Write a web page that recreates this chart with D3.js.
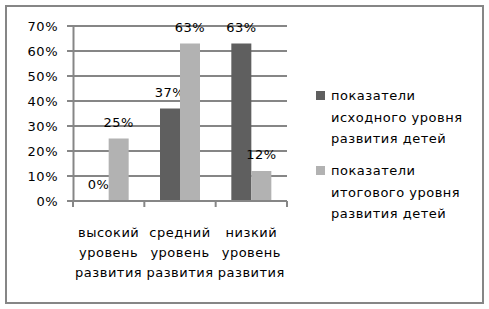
<!DOCTYPE html>
<html lang="ru">
<head>
<meta charset="UTF-8">
<script src="https://d3js.org/d3.v7.min.js"></script>
<style>
  html, body { margin: 0; padding: 0; background: #fff; }
  svg { display: block; font-family: "DejaVu Sans", sans-serif; }
  svg text { letter-spacing: 0.5px; }
</style>
</head>
<body>
<div id="chart"></div>
<script>
// data
const categories = [
  ["высокий", "уровень", "развития"],
  ["средний", "уровень", "развития"],
  ["низкий", "уровень", "развития"]
];
const initialLevel = [0, 37, 63];   // показатели исходного уровня
const finalLevel = [25, 63, 12];    // показатели итогового уровня
const yTicks = [0, 10, 20, 30, 40, 50, 60, 70];
const legendLabels = [
  ["показатели", "исходного уровня", "развития детей"],
  ["показатели", "итогового уровня", "развития детей"]
];
const colors = ["#5f5f5f", "#b2b2b2"];

const w = 489, h = 309;
const plotLeft = 73, plotRight = 287, plotTop = 26, plotBottom = 201;

const svg = d3.select("#chart").append("svg")
  .attr("width", w)
  .attr("height", h);

// outer frame
svg.append("rect")
  .attr("x", 6).attr("y", 6)
  .attr("width", 477).attr("height", 297)
  .attr("fill", "#fff")
  .attr("stroke", "#868686")
  .attr("stroke-width", 2);

const keys = categories.map((c, i) => i);

const x = d3.scaleBand()
  .domain(keys)
  .range([plotLeft, plotRight]);

const barW = 20;
const xs = d3.scaleBand()
  .domain([0, 1])
  .range([x.bandwidth() / 2 - barW, x.bandwidth() / 2 + barW]);

const y = d3.scaleLinear()
  .domain([0, 70])
  .range([plotBottom, plotTop]);

// gridlines
svg.append("g")
  .selectAll("line")
  .data(yTicks)
  .enter()
  .append("line")
  .attr("x1", plotLeft - 6)
  .attr("x2", plotRight)
  .attr("y1", d => y(d))
  .attr("y2", d => y(d))
  .attr("stroke", "#868686")
  .attr("stroke-width", 2);

// y axis
const yAxis = d3.axisLeft(y)
  .tickValues(yTicks)
  .tickSize(0)
  .tickPadding(15)
  .tickFormat(d => d + "%");

const gy = svg.append("g")
  .attr("transform", `translate(${plotLeft},0)`)
  .call(yAxis);
gy.select(".domain")
  .attr("stroke", "#868686")
  .attr("stroke-width", 2);
gy.selectAll("text")
  .attr("font-size", "13px")
  .attr("fill", "#000")
  .attr("font-family", "DejaVu Sans");

// bars
const series = [initialLevel, finalLevel];
series.forEach((vals, s) => {
  svg.append("g")
    .selectAll("rect")
    .data(vals)
    .enter()
    .append("rect")
    .attr("x", (d, i) => x(i) + xs(s))
    .attr("y", d => y(d))
    .attr("width", xs.bandwidth())
    .attr("height", d => plotBottom - y(d))
    .attr("fill", colors[s]);

  svg.append("g")
    .selectAll("text")
    .data(vals)
    .enter()
    .append("text")
    .attr("x", (d, i) => x(i) + xs(s) + xs.bandwidth() / 2)
    .attr("y", d => y(d) - 12)
    .attr("text-anchor", "middle")
    .attr("font-size", "13px")
    .attr("fill", "#000")
    .text(d => d + "%");
});

// x axis line and category tick marks
svg.append("line")
  .attr("x1", plotLeft - 6).attr("x2", plotRight)
  .attr("y1", plotBottom).attr("y2", plotBottom)
  .attr("stroke", "#868686")
  .attr("stroke-width", 2);

const bounds = keys.map(k => x(k)).concat([x.range()[1]]);
svg.append("g")
  .selectAll("line")
  .data(bounds)
  .enter()
  .append("line")
  .attr("x1", d => d).attr("x2", d => d)
  .attr("y1", plotBottom).attr("y2", plotBottom + 6)
  .attr("stroke", "#868686")
  .attr("stroke-width", 2);

// category labels
const catG = svg.append("g");
categories.forEach((lines, i) => {
  const t = catG.append("text")
    .attr("x", x(i) + x.bandwidth() / 2)
    .attr("y", 236.5)
    .attr("text-anchor", "middle")
    .attr("font-size", "13px")
    .attr("fill", "#000");
  lines.forEach((ln, j) => {
    t.append("tspan")
      .attr("x", x(i) + x.bandwidth() / 2)
      .attr("y", 236.5 + j * 20)
      .text(ln);
  });
});

// legend
const legendY = [91, 166];
legendLabels.forEach((lines, s) => {
  const g = svg.append("g");
  g.append("rect")
    .attr("x", 316).attr("y", legendY[s])
    .attr("width", 9).attr("height", 9)
    .attr("fill", colors[s]);
  lines.forEach((ln, j) => {
    g.append("text")
      .attr("x", 331)
      .attr("y", legendY[s] + 9 + j * 21.5)
      .attr("font-size", "13px")
      .attr("fill", "#000")
      .text(ln);
  });
});
</script>
</body>
</html>
